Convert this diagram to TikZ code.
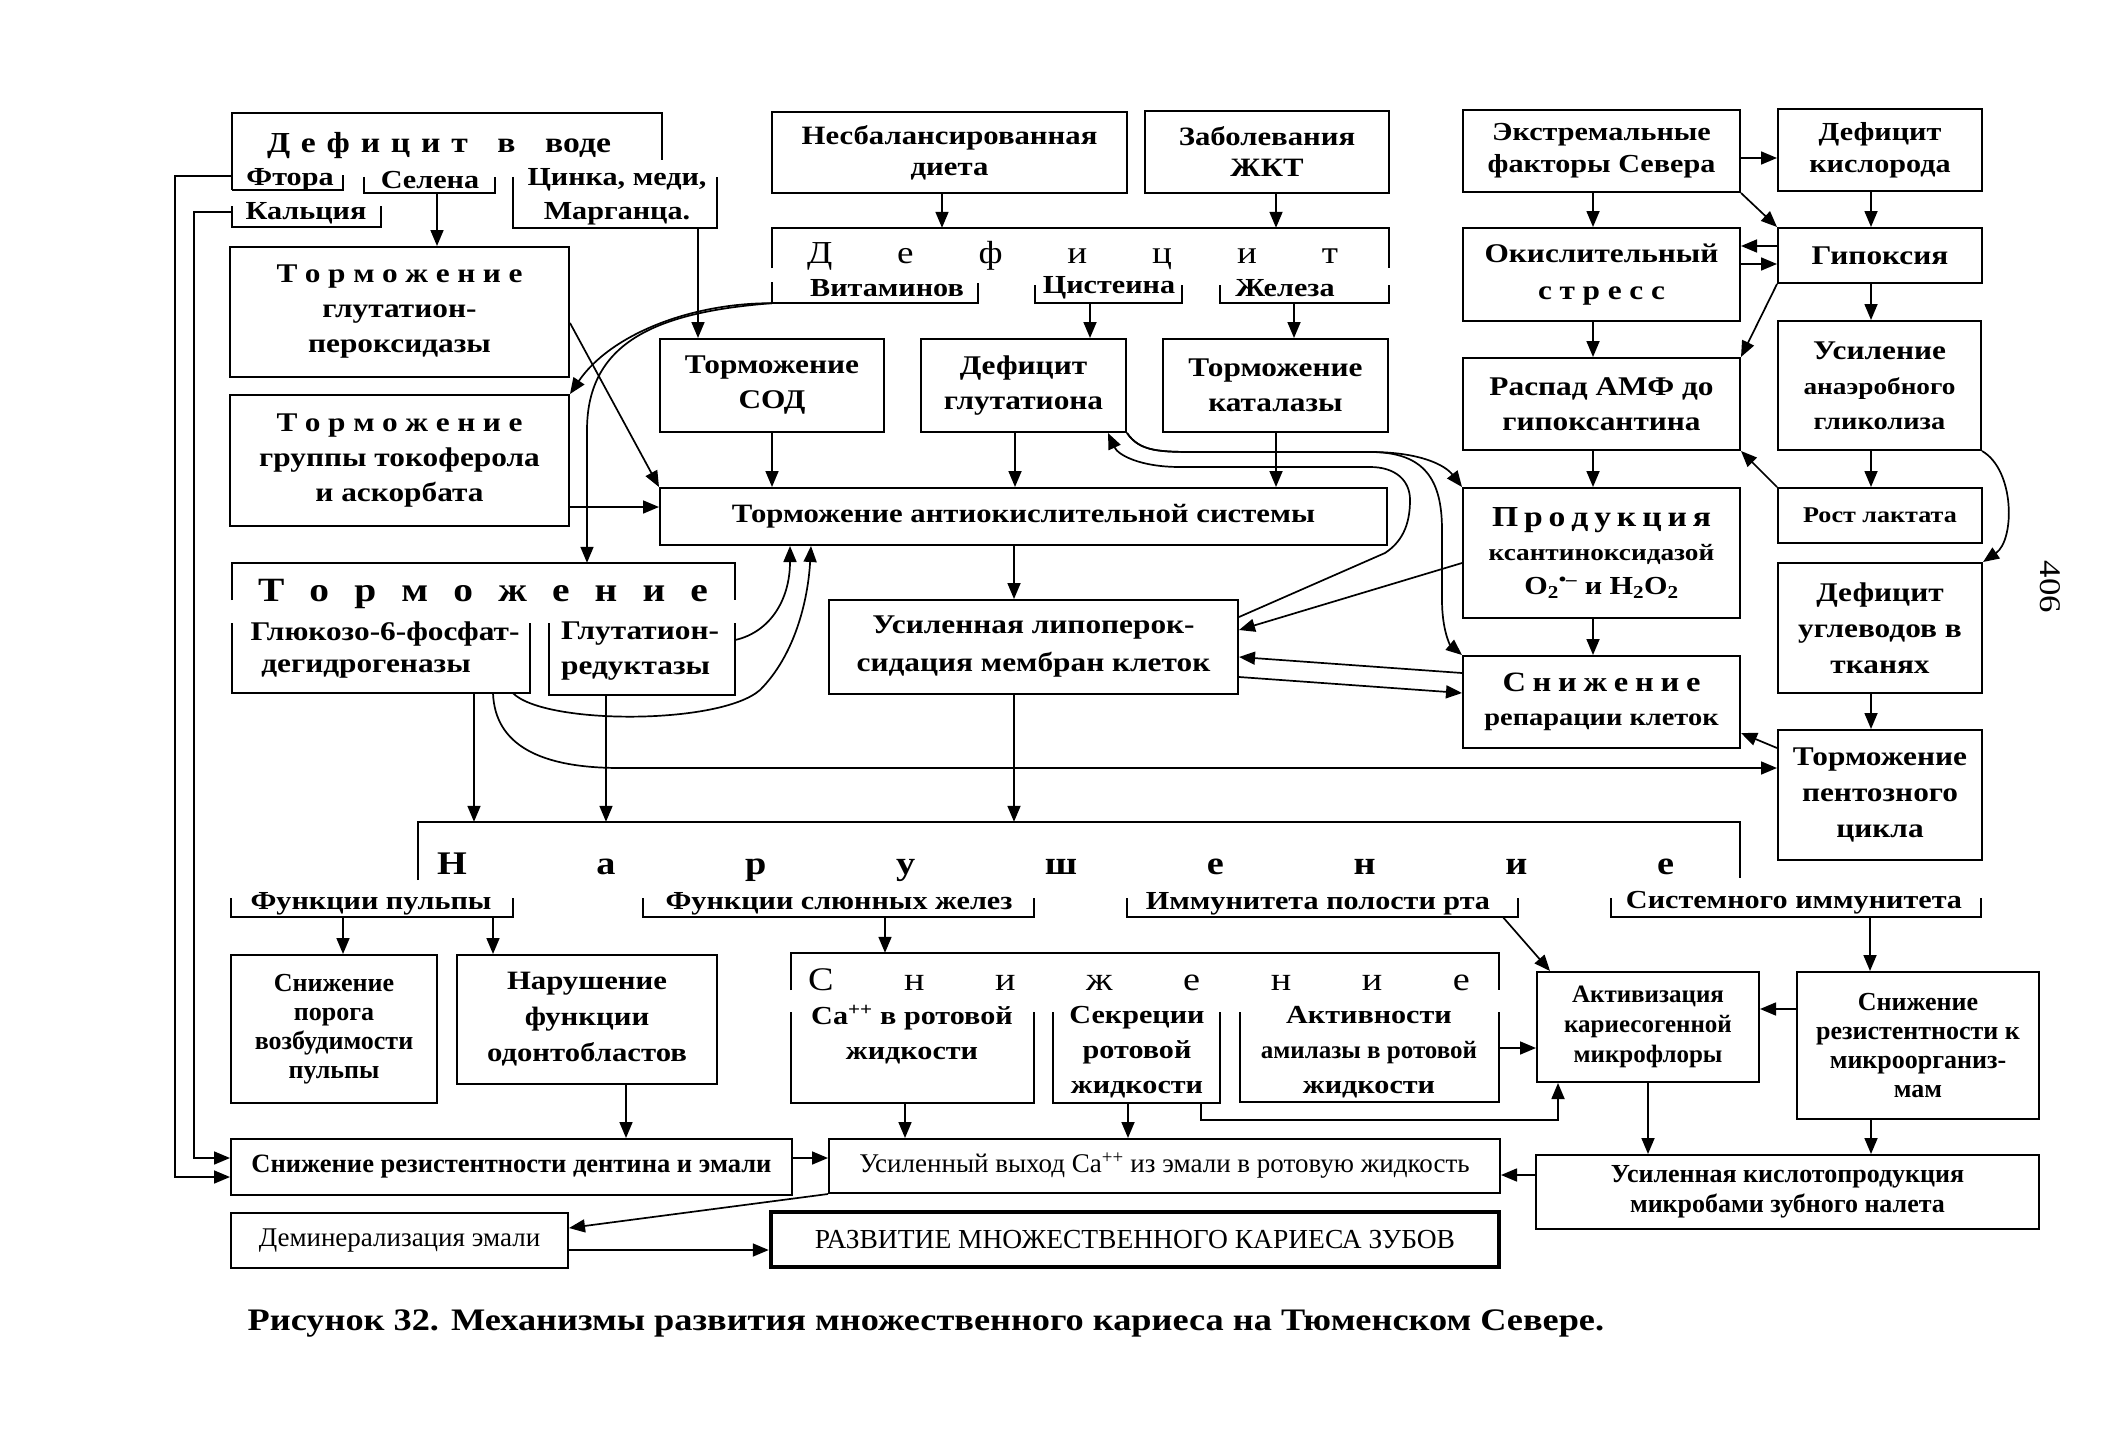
\documentclass[tikz,border=0pt]{standalone}
\usepackage{fontspec}
\setmainfont{Liberation Serif}[FakeStretch=1.16]
\newfontfamily\nfont{Liberation Serif}
\usetikzlibrary{arrows.meta}
\newcommand\fsz[2]{\fontsize{#1}{#2}\selectfont}
\newcommand\spread[2]{\makebox[#1][s]{#2}}
\newcommand\mkbox[7]{\node[#6, minimum width={#4-#2}, minimum height={#5-#3}] (#1) at ({(#2+#4)/2},{(#3+#5)/2}) {#7};}
\begin{document}
\begin{tikzpicture}[x=1pt,y=-1pt,
 box/.style={draw, line width=2pt, inner sep=0pt, align=center, font=\fsz{27}{35}\bfseries},
 reg/.style={inner sep=0pt, draw=none},
 txt/.style={inner sep=0pt, align=center},
 ln/.style={line width=2pt},
 arr/.style={line width=1.7pt, -{Triangle[length=16pt,width=13pt]}},
 cn/.style={line width=1.7pt}]
\fill[white] (0,0) rectangle (2108,1450);
\useasboundingbox (0,0) rectangle (2108,1450);

% ---------- boxes ----------
\mkbox{tgp}{230}{247}{569}{377}{box}{\spread{246pt}{Т о р м о ж е н и е}\\глутатион-\\пероксидазы}
\mkbox{ttok}{230}{395}{569}{526}{box}{\spread{246pt}{Т о р м о ж е н и е}\\группы токоферола\\и аскорбата}
\mkbox{nesb}{772}{112}{1127}{193}{box,font=\fsz{26.5}{31}\bfseries}{Несбалансированная\\диета}
\mkbox{zhkt}{1145}{111}{1389}{193}{box,font=\fsz{26.5}{31}\bfseries}{Заболевания\\ЖКТ}
\mkbox{sod}{660}{339}{884}{432}{box}{Торможение\\СОД}
\mkbox{dglut}{921}{339}{1126}{432}{box}{Дефицит\\глутатиона}
\mkbox{katal}{1163}{339}{1388}{432}{box}{Торможение\\каталазы}
\mkbox{antiox}{660}{488}{1387}{545}{box,font=\fsz{26.5}{35}\bfseries}{Торможение антиокислительной системы}
\mkbox{lipo}{829}{600}{1238}{694}{box,font=\fsz{27}{38}\bfseries}{Усиленная липоперок-\\сидация мембран клеток}
\mkbox{extr}{1463}{110}{1740}{192}{box,font=\fsz{26}{32}\bfseries}{Экстремальные\\факторы Севера}
\mkbox{dkis}{1778}{109}{1982}{191}{box,font=\fsz{26}{32}\bfseries}{Дефицит\\кислорода}
\mkbox{okis}{1463}{228}{1740}{321}{box,font=\fsz{27}{37}\bfseries}{Окислительный\\\spread{127pt}{с т р е с с}}
\mkbox{gipox}{1778}{228}{1982}{283}{box}{Гипоксия}
\mkbox{raspad}{1463}{358}{1740}{450}{box}{Распад АМФ до\\гипоксантина}
\mkbox{usil}{1778}{321}{1981}{450}{box}{Усиление\\{\fsz{23.5}{35}анаэробного}\\{\fsz{24.5}{35}гликолиза}}
\mkbox{prod}{1463}{488}{1740}{618}{box,font=\fsz{26}{34}\bfseries}{{\fsz{29}{34}\spread{219pt}{П р о д у к ц и я}}\\{\fsz{23.5}{34}ксантиноксидазой}\\O\textsubscript{2}\textsuperscript{•–}\ и H\textsubscript{2}O\textsubscript{2}}
\mkbox{rost}{1778}{488}{1982}{543}{box,font=\fsz{22.5}{30}\bfseries}{Рост лактата}
\mkbox{dugl}{1778}{563}{1982}{693}{box,font=\fsz{27}{36}\bfseries}{Дефицит\\углеводов в\\тканях}
\mkbox{snrep}{1463}{656}{1740}{748}{box,font=\fsz{24.5}{34}\bfseries}{{\fsz{28}{34}\spread{198pt}{С н и ж е н и е}}\\репарации клеток}
\mkbox{pent}{1778}{730}{1982}{860}{box,font=\fsz{27}{36}\bfseries}{Торможение\\пентозного\\цикла}
\mkbox{snpor}{231}{955}{437}{1103}{box,font=\nfont\fsz{26}{29}\bfseries}{Снижение\\порога\\возбудимости\\пульпы}
\mkbox{odont}{457}{955}{717}{1084}{box,font=\fsz{26.5}{36}\bfseries}{Нарушение\\функции\\одонтобластов}
\mkbox{aktiv}{1537}{972}{1759}{1082}{box,font=\nfont\fsz{25}{30}\bfseries}{Активизация\\кариесогенной\\микрофлоры}
\mkbox{snrez}{1797}{972}{2039}{1119}{box,font=\nfont\fsz{26}{29}\bfseries}{Снижение\\резистентности к\\микроорганиз-\\мам}
\mkbox{snDent}{231}{1139}{792}{1195}{box,font=\nfont\fsz{26.5}{30}\bfseries}{Снижение резистентности дентина и эмали}
\mkbox{vyhod}{829}{1139}{1500}{1193}{box,font=\nfont\fsz{27}{30}}{Усиленный выход Ca\textsuperscript{++} из эмали в ротовую жидкость}
\mkbox{kislot}{1536}{1155}{2039}{1229}{box,font=\nfont\fsz{26}{30}\bfseries}{Усиленная кислотопродукция\\микробами зубного налета}
\mkbox{demin}{231}{1213}{568}{1268}{box,font=\nfont\fsz{27}{30}}{Деминерализация эмали}
\mkbox{razv}{771}{1212}{1499}{1267}{box,line width=4.5pt,font=\nfont\fsz{27.5}{30}}{РАЗВИТИЕ МНОЖЕСТВЕННОГО КАРИЕСА ЗУБОВ}

% ---------- bracket groups (regions) ----------
\mkbox{dv}{232}{113}{662}{190}{reg}{}
\mkbox{ftora}{232}{175}{343}{190}{reg}{}
\mkbox{selena}{364}{177}{495}{193}{reg}{}
\mkbox{cink}{513}{177}{717}{228}{reg}{}
\mkbox{kalc}{232}{206}{381}{227}{reg}{}
\mkbox{df}{772}{228}{1389}{303}{reg}{}
\mkbox{vit}{772}{283}{978}{303}{reg}{}
\mkbox{cyst}{1035}{285}{1182}{303}{reg}{}
\mkbox{zhel}{1220}{285}{1389}{303}{reg}{}
\mkbox{tg}{232}{563}{735}{695}{reg}{}
\mkbox{g6}{232}{623}{530}{693}{reg}{}
\mkbox{gred}{549}{623}{735}{695}{reg}{}
\mkbox{nar}{418}{822}{1740}{880}{reg}{}
\mkbox{pulp}{231}{898}{513}{917}{reg}{}
\mkbox{slyun}{643}{898}{1034}{917}{reg}{}
\mkbox{immun}{1127}{898}{1518}{917}{reg}{}
\mkbox{sistem}{1611}{898}{1981}{917}{reg}{}
\mkbox{sn}{791}{953}{1499}{1103}{reg}{}
\mkbox{ca}{791}{1012}{1034}{1103}{reg}{}
\mkbox{sekr}{1053}{1012}{1220}{1103}{reg}{}
\mkbox{aktn}{1240}{1012}{1499}{1102}{reg}{}

% bracket lines
\draw[ln] (232,190) -- (232,113) -- (662,113) -- (662,160);
\draw[ln] (232,190) -- (343,190) -- (343,175);
\draw[ln] (364,177) -- (364,193) -- (495,193) -- (495,177);
\draw[ln] (513,177) -- (513,228) -- (717,228) -- (717,177);
\draw[ln] (232,206) -- (232,227) -- (381,227) -- (381,206);
\draw[ln] (772,268) -- (772,228) -- (1389,228) -- (1389,268);
\draw[ln] (772,282) -- (772,303) -- (978,303) -- (978,283);
\draw[ln] (1035,285) -- (1035,303) -- (1182,303) -- (1182,285);
\draw[ln] (1220,285) -- (1220,303) -- (1389,303) -- (1389,285);
\draw[ln] (232,600) -- (232,563) -- (735,563) -- (735,600);
\draw[ln] (232,623) -- (232,693) -- (530,693) -- (530,623);
\draw[ln] (549,623) -- (549,695) -- (735,695) -- (735,623);
\draw[ln] (418,880) -- (418,822) -- (1740,822) -- (1740,878);
\draw[ln] (231,898) -- (231,917) -- (513,917) -- (513,898);
\draw[ln] (643,898) -- (643,917) -- (1034,917) -- (1034,898);
\draw[ln] (1127,898) -- (1127,917) -- (1518,917) -- (1518,898);
\draw[ln] (1611,898) -- (1611,917) -- (1981,917) -- (1981,898);
\draw[ln] (791,990) -- (791,953) -- (1499,953) -- (1499,990);
\draw[ln] (791,1012) -- (791,1103) -- (1034,1103) -- (1034,1012);
\draw[ln] (1053,1012) -- (1053,1103) -- (1220,1103) -- (1220,1012);
\draw[ln] (1240,1012) -- (1240,1102) -- (1499,1102) -- (1499,1012);

% group texts
\node[txt,font=\fsz{29}{30}\bfseries] (dvT) at (439,146) {\spread{344pt}{Д е ф и ц и т \hspace{8pt} в \hspace{8pt} воде}};
\node[txt,font=\fsz{26}{34}\bfseries] (ftoraT) at (290,180) {Фтора};
\node[txt,font=\fsz{26}{34}\bfseries] (selenaT) at (430,180) {Селена};
\node[txt,font=\fsz{26}{34}\bfseries] (cinkT) at (617,197) {Цинка, меди,\\Марганца.};
\node[txt,font=\fsz{26}{34}\bfseries] (kalcT) at (306,213) {Кальция};
\node[txt,font=\fsz{32}{30}] (dfT) at (1072.5,256) {\spread{531pt}{Д е ф и ц и т}};
\node[txt,font=\fsz{26}{30}\bfseries] (vitT) at (887,288) {Витаминов};
\node[txt,font=\fsz{26}{30}\bfseries] (cystT) at (1109,288) {Цистеина};
\node[txt,font=\fsz{26}{30}\bfseries] (zhelT) at (1285,288) {Железа};
\node[txt,font=\fsz{34}{30}\bfseries] (tgT) at (483,594) {\spread{450pt}{Т о р м о ж е н и е}};
\node[txt,font=\fsz{27}{35}\bfseries] (g6T1) at (385,634) {Глюкозо-6-фосфат-};
\node[txt,font=\fsz{27}{35}\bfseries] (g6T2) at (366,669) {дегидрогеназы};
\node[txt,font=\fsz{27}{35}\bfseries,align=left,anchor=west] (gredT) at (561,651) {Глутатион-\\редуктазы};
\node[txt,font=\fsz{33}{30}\bfseries] (narT) at (1055.5,867) {\spread{1237pt}{Н а р у ш е н и е}};
\node[txt,font=\fsz{26}{30}\bfseries] (pulpT) at (371,904) {Функции пульпы};
\node[txt,font=\fsz{26}{30}\bfseries] (slyunT) at (839,904) {Функции слюнных желез};
\node[txt,font=\fsz{26}{30}\bfseries] (immunT) at (1318,904) {Иммунитета полости рта};
\node[txt,font=\fsz{26}{30}\bfseries] (sistemT) at (1794,903) {Системного иммунитета};
\node[txt,font=\fsz{33}{30}] (snT) at (1139,980) {\spread{662pt}{С н и ж е н и е}};
\node[txt,font=\fsz{26}{35}\bfseries] (caT) at (912,1035) {Ca\textsuperscript{++} в ротовой\\жидкости};
\node[txt,font=\fsz{26}{35}\bfseries] (sekrT) at (1137,1052) {Секреции\\ротовой\\жидкости};
\node[txt,font=\fsz{26}{35}\bfseries] (aktnT) at (1369,1052) {Активности\\{\nfont\fsz{25}{35}амилазы в ротовой}\\жидкости};
\node[txt,font=\fsz{31.3}{30}\bfseries] (capT) at (926,1323) {Рисунок 32. Механизмы развития множественного кариеса на Тюменском Севере.};
\node[txt,font=\fsz{30}{30},rotate=-90] (pgT) at (2050,587) {406};

% ---------- connectors ----------
\draw[arr] (ftora.west |- 0,176) -- (175,176) -- (175,1177) -- (snDent.west |- 0,1177);
\draw[arr] (kalc.west |- 0,212) -- (194,212) -- (194,1158) -- (snDent.west |- 0,1158);
\draw[arr] (selena.south -| 437,0) -- (tgp.north -| 437,0);
\draw[arr] (cink.south -| 698,0) -- (sod.north -| 698,0);
\draw[arr] (tgp.east |- 0,323) -- (antiox.north west);
\draw[arr] (ttok.east |- 0,507) -- (antiox.west |- 0,507);
\draw[arr] (vit.south west) .. controls (690,303) and (610,335) .. (ttok.north east);
\draw[arr] (vit.south west) .. controls (660,312) and (587,340) .. (587,430) -- (tg.north -| 587,0);
\draw[arr] (nesb.south -| 942,0) -- (df.north -| 942,0);
\draw[arr] (zhkt.south -| 1276,0) -- (df.north -| 1276,0);
\draw[arr] (cyst.south -| 1090,0) -- (dglut.north -| 1090,0);
\draw[arr] (zhel.south -| 1294,0) -- (katal.north -| 1294,0);
\draw[arr] (sod.south -| 772,0) -- (antiox.north -| 772,0);
\draw[arr] (dglut.south -| 1015,0) -- (antiox.north -| 1015,0);
\draw[arr] (katal.south -| 1276,0) -- (antiox.north -| 1276,0);
\draw[arr] (antiox.south -| 1014,0) -- (lipo.north -| 1014,0);
\draw[arr] (gred.east |- 0,640) .. controls (770,632) and (790,600) .. (antiox.south -| 790,0);
\draw[arr] (g6.south -| 513,0) .. controls (545,725) and (720,725) .. (760,690) .. controls (795,655) and (808,600) .. (antiox.south -| 811,0);
\draw[arr] (g6.south -| 493,0) .. controls (495,745) and (540,768) .. (620,768) -- (pent.west |- 0,768);
\draw[arr] (g6.south -| 474,0) -- (nar.north -| 474,0);
\draw[arr] (gred.south -| 606,0) -- (nar.north -| 606,0);
\draw[arr] (lipo.south -| 1014,0) -- (nar.north -| 1014,0);

\draw[arr] (extr.east |- 0,158) -- (dkis.west |- 0,158);
\draw[arr] (extr.south -| 1593,0) -- (okis.north -| 1593,0);
\draw[arr] (extr.south east) -- (gipox.north west);
\draw[arr] (dkis.south -| 1871,0) -- (gipox.north -| 1871,0);
\draw[arr] (gipox.west |- 0,246) -- (okis.east |- 0,246);
\draw[arr] (okis.east |- 0,264) -- (gipox.west |- 0,264);
\draw[arr] (gipox.south west) -- (raspad.north east);
\draw[arr] (okis.south -| 1593,0) -- (raspad.north -| 1593,0);
\draw[arr] (gipox.south -| 1871,0) -- (usil.north -| 1871,0);
\draw[arr] (raspad.south -| 1593,0) -- (prod.north -| 1593,0);
\draw[arr] (usil.south -| 1871,0) -- (rost.north -| 1871,0);
\draw[arr] (rost.north west) -- (raspad.south east);
\draw[arr] (usil.south east) .. controls (2015,470) and (2015,540) .. (dugl.north east);
\draw[arr] (prod.south -| 1593,0) -- (snrep.north -| 1593,0);
\draw[arr] (dugl.south -| 1871,0) -- (pent.north -| 1871,0);
\draw[arr] (pent.west |- 0,748) -- (snrep.east |- 0,733);
\draw[arr] (dglut.south east) .. controls (1140,452) and (1160,452) .. (1200,452) -- (1370,452) .. controls (1420,452) and (1445,465) .. (prod.north west);
\draw[arr] (dglut.south east) .. controls (1140,452) and (1160,452) .. (1200,452) -- (1370,452) .. controls (1425,452) and (1442,480) .. (1442,530) -- (1442,600) .. controls (1442,630) and (1450,645) .. (snrep.north west);
\draw[arr] (lipo.east |- 0,617) -- (1385,553) .. controls (1405,540) and (1410,520) .. (1410,500) .. controls (1410,480) and (1395,467) .. (1370,467) -- (1180,467) .. controls (1140,467) and (1118,455) .. (dglut.south -| 1108,0);
\draw[arr] (prod.west |- 0,563) -- (lipo.east |- 0,630);
\draw[arr] (snrep.west |- 0,673) -- (lipo.east |- 0,657);
\draw[arr] (lipo.east |- 0,677) -- (snrep.west |- 0,693);

\draw[arr] (pulp.south -| 343,0) -- (snpor.north -| 343,0);
\draw[arr] (pulp.south -| 493,0) -- (odont.north -| 493,0);
\draw[arr] (slyun.south -| 885,0) -- (sn.north -| 885,0);
\draw[arr] (immun.south -| 1503,0) -- ([xshift=14pt]aktiv.north west);
\draw[arr] (sistem.south -| 1870,0) -- (snrez.north -| 1870,0);
\draw[arr] (odont.south -| 626,0) -- (snDent.north -| 626,0);
\draw[arr] (ca.south -| 905,0) -- (vyhod.north -| 905,0);
\draw[arr] (sekr.south -| 1128,0) -- (vyhod.north -| 1128,0);
\draw[arr] (sekr.south -| 1201,0) -- (1201,1120) -- (1558,1120) -- (aktiv.south -| 1558,0);
\draw[arr] (aktn.east |- 0,1048) -- (aktiv.west |- 0,1048);
\draw[arr] (snrez.west |- 0,1009) -- (aktiv.east |- 0,1009);
\draw[arr] (aktiv.south -| 1648,0) -- (kislot.north -| 1648,0);
\draw[arr] (snrez.south -| 1871,0) -- (kislot.north -| 1871,0);
\draw[arr] (kislot.west |- 0,1175) -- (vyhod.east |- 0,1175);
\draw[arr] (snDent.east |- 0,1158) -- (vyhod.west |- 0,1158);
\draw[arr] (vyhod.south west) -- (demin.east |- 0,1228);
\draw[arr] (demin.east |- 0,1250) -- (razv.west |- 0,1250);
\end{tikzpicture}
\end{document}
